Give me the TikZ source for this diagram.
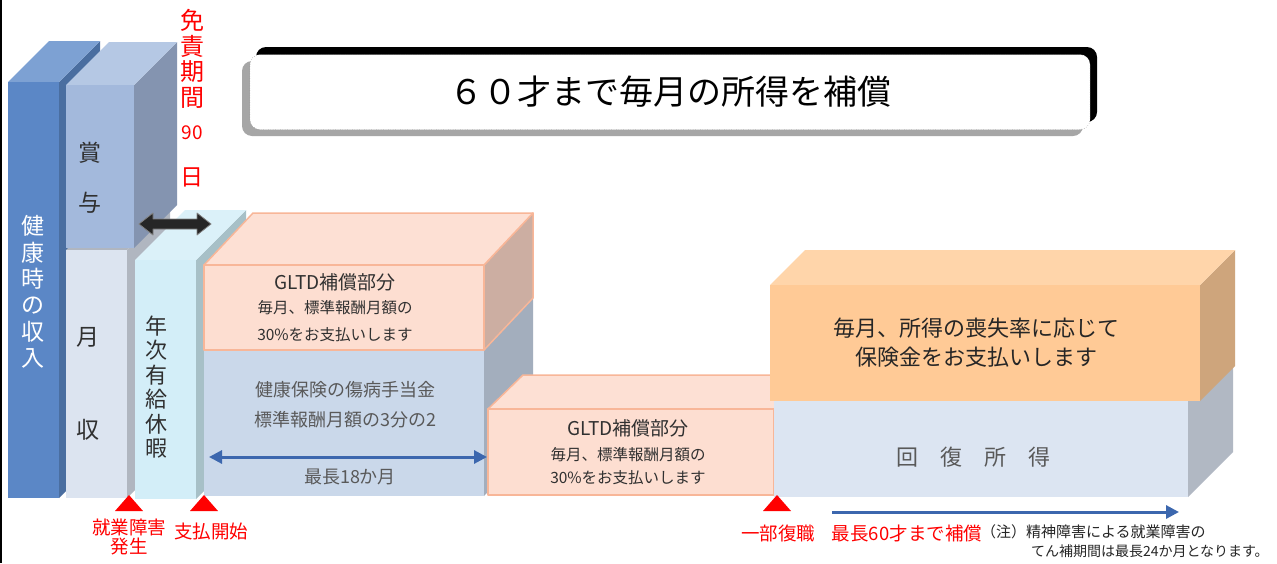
\documentclass[tikz,border=0pt]{standalone}
\usepackage{fontspec}
\setmainfont{Noto Sans CJK JP}
\usetikzlibrary{arrows.meta}
\definecolor{cAf}{HTML}{5B87C6}\definecolor{cAt}{HTML}{7DA1D3}\definecolor{cAs}{HTML}{4A6EA0}
\definecolor{cBf}{HTML}{A3B9DC}\definecolor{cBt}{HTML}{B5C8E4}\definecolor{cBs}{HTML}{8494B0}
\definecolor{cCf}{HTML}{DCE4F0}\definecolor{cCs}{HTML}{B0B6C0}
\definecolor{cDf}{HTML}{D3EEF8}\definecolor{cDt}{HTML}{DBF1F9}\definecolor{cDs}{HTML}{A7C0C7}
\definecolor{gFront}{HTML}{FDDED1}\definecolor{gTop}{HTML}{FDE0D4}\definecolor{gSide}{HTML}{CCAEA2}\definecolor{gLine}{HTML}{F8B698}
\definecolor{hkFront}{HTML}{CAD8EA}\definecolor{hkSide}{HTML}{A3AEBD}
\definecolor{rcFront}{HTML}{DCE5F2}\definecolor{rcSide}{HTML}{B1B8C3}
\definecolor{orFront}{HTML}{FFCA96}\definecolor{orTop}{HTML}{FFD5AA}\definecolor{orSide}{HTML}{CEA57C}
\definecolor{blueA}{HTML}{3C67AE}
\definecolor{redA}{HTML}{FF0000}
\definecolor{txtGray}{HTML}{595959}
\definecolor{txtDark}{HTML}{303030}
\newcommand\jfs[2]{\fontsize{#1}{#2}\selectfont}
% cuboid: x1,y1(top),x2,y2(bottom),dx,dy,front,top,side
\newcommand\mycuboid[9]{%
  \fill[#9] (#3,#2) -- ({#3+#5},{#2+#6}) -- ({#3+#5},{#4+#6}) -- (#3,#4) -- cycle;
  \fill[#8] (#1,#2) -- ({#1+#5},{#2+#6}) -- ({#3+#5},{#2+#6}) -- (#3,#2) -- cycle;
  \fill[#7] (#1,#2) rectangle (#3,#4);}
\tikzset{
  txt/.style={inner sep=0pt, outer sep=0pt, align=center},
  gltd/.style={line width=1.5pt, draw=gLine, line join=round},
  bluearrow/.style={draw=blueA, line width=3pt, {Triangle[length=13pt,width=13pt]}-{Triangle[length=13pt,width=13pt]}},
  bluearrowR/.style={draw=blueA, line width=3pt, -{Triangle[length=13pt,width=13pt]}},
  redtri/.style={fill=redA},
}
\begin{document}
\begin{tikzpicture}[x=1pt,y=-1pt]
\useasboundingbox (0,0) rectangle (1277,563);
\fill[white] (0,0) rectangle (1277,563);
\fill[black] (0,0) rectangle (2,563);

% title box
\fill[black, rounded corners=10pt] (256,47) rectangle (1097,122);
\fill[gray!70, rounded corners=10pt] (242,61) rectangle (1083,136);
\node[txt, draw=black!55, dotted, fill=white, rounded corners=10pt, minimum width=840pt, minimum height=75pt] (titlebox) at (670,92) {};
\node[txt, font=\jfs{34}{36}, text=black] (title) at (titlebox.center) {６０才まで毎月の所得を補償};

% left columns
\mycuboid{8}{82}{59}{498}{41}{-41}{cAf}{cAt}{cAs}
\mycuboid{66}{250}{127}{498}{43}{-43}{cCf}{cCs}{cCs}
\mycuboid{66}{85}{134}{248}{43}{-43}{cBf}{cBt}{cBs}
\mycuboid{135}{260}{196}{499}{50}{-50}{cDf}{cDt}{cDs}

\node[txt, font=\jfs{23}{26.4}, text=white] (kenko) at (33,292) {健\\康\\時\\の\\収\\入};
\node[txt, font=\jfs{23}{26}, text=txtDark] (sho) at (90,153) {賞};
\node[txt, font=\jfs{23}{26}, text=txtDark] (yo) at (90,203) {与};
\node[txt, font=\jfs{23}{26}, text=txtDark] (tsuki) at (88,337) {月};
\node[txt, font=\jfs{23}{26}, text=txtDark] (shu) at (88,430) {収};
\node[txt, font=\jfs{22}{24.4}, text=txtDark] (nenji) at (156,387) {年\\次\\有\\給\\休\\暇};

% black double arrow
\coordinate (fa) at (139,224);
\coordinate (fb) at (211,224);
\fill[black!85, draw=gray, line width=0.8pt, line join=round]
  (fa) -- ++(14,-11) -- ++(0,6) -- ++(44,0) -- ++(0,-6) -- (fb) -- ++(-14,11) -- ++(0,-6) -- ++(-44,0) -- ++(0,6) -- cycle;

% free period label
\node[txt, font=\jfs{24}{25.7}, text=redA] (menseki) at (192,59) {免\\責\\期\\間};
\node[txt, font=\jfs{19}{22}, text=redA] (d90) at (192,133) {90};
\node[txt, font=\jfs{23}{26}, text=redA] (nichi) at (192,177) {日};

% health insurance box and GLTD 1
\mycuboid{204}{350}{484}{496}{49}{-52}{hkFront}{hkFront}{hkSide}
\mycuboid{204}{265}{484}{350}{49}{-52}{gFront,gltd}{gTop,gltd}{gSide,gltd}
\node[txt, font=\jfs{19}{22}, text=txtDark] (g1a) at (335,282) {GLTD補償部分};
\node[txt, font=\jfs{15.5}{18}, text=txtDark] (g1b) at (335,308) {毎月、標準報酬月額の};
\node[txt, font=\jfs{15.5}{18}, text=txtDark] (g1c) at (335,335) {30\%をお支払いします};
\node[txt, font=\jfs{18}{22}, text=txtGray] (hk1) at (345,390) {健康保険の傷病手当金};
\node[txt, font=\jfs{18}{22}, text=txtGray] (hk2) at (345,420) {標準報酬月額の3分の2};
\coordinate (a18s) at (209,457);
\coordinate (a18e) at (487,457);
\draw[bluearrow] (a18s) -- (a18e);
\node[txt, font=\jfs{18}{20}, text=txtGray] (m18) at (350,477) {最長18か月};

% GLTD 2
\mycuboid{488}{409}{774}{495}{35}{-34}{gFront,gltd}{gTop,gltd}{gSide,gltd}
\node[txt, font=\jfs{19}{22}, text=txtDark] (g2a) at (628,428) {GLTD補償部分};
\node[txt, font=\jfs{15.5}{18}, text=txtDark] (g2b) at (628,455) {毎月、標準報酬月額の};
\node[txt, font=\jfs{15.5}{18}, text=txtDark] (g2c) at (628,478) {30\%をお支払いします};

% recovery income and orange box
\mycuboid{774}{400}{1188}{497}{45}{-45}{rcFront}{rcFront}{rcSide}
\mycuboid{770}{285}{1200}{401}{35}{-35}{orFront}{orTop}{orSide}
\node[txt, font=\jfs{22}{24}, text=black!85] (or1) at (976,328) {毎月、所得の喪失率に応じて};
\node[txt, font=\jfs{22}{24}, text=black!85] (or2) at (976,357) {保険金をお支払いします};
\node[txt, font=\jfs{22}{24}, text=txtGray] (kaifuku) at (973,457) {回　復　所　得};

% red triangles
\fill[redtri] (129,495) -- (143,511) -- (115,511) -- cycle;
\fill[redtri] (204,495) -- (218,511) -- (190,511) -- cycle;
\fill[redtri] (777,495) -- (791,511) -- (763,511) -- cycle;

% bottom labels
\node[txt, font=\jfs{18.5}{19}, text=redA] (shugyo) at (129,537) {就業障害\\発生};
\node[txt, font=\jfs{18.5}{20}, text=redA] (shiharai) at (211,531) {支払開始};
\node[txt, font=\jfs{18.5}{20}, text=redA] (ichibu) at (778,533) {一部復職};
\node[txt, font=\jfs{18.5}{20}, text=redA] (max60) at (907,533) {最長60才まで補償};
\node[txt, font=\jfs{15}{18}, text=black!85, anchor=west] (note1) at (981,532) {（注）精神障害による就業障害の};
\node[txt, font=\jfs{14}{17}, text=black!85, anchor=west] (note2) at (1031,551) {てん補期間は最長24か月となります。};

\coordinate (a60s) at (832,512);
\coordinate (a60e) at (1179,512);
\draw[bluearrowR] (a60s) -- (a60e);
\end{tikzpicture}
\end{document}
